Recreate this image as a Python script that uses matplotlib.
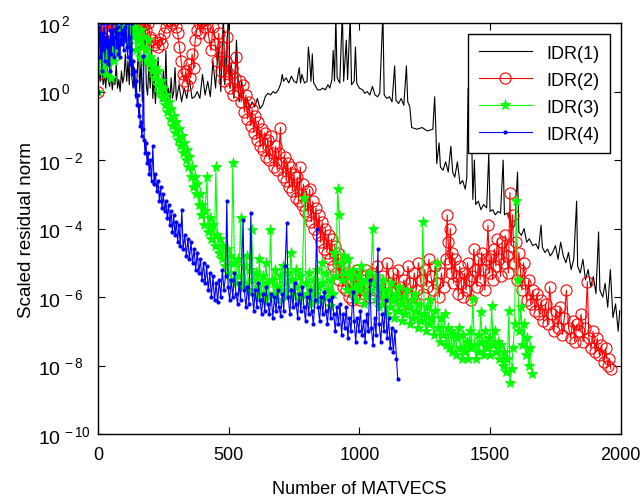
import matplotlib
matplotlib.use('Agg')
import matplotlib.pyplot as plt
import numpy as np
from matplotlib.ticker import FixedLocator, FuncFormatter

plt.rcParams['font.family'] = ['Liberation Sans', 'DejaVu Sans']
plt.rcParams['mathtext.fontset'] = 'custom'
plt.rcParams['mathtext.rm'] = 'Liberation Sans'
plt.rcParams['mathtext.it'] = 'Liberation Sans'

# (MATVECS, log10 of scaled residual norm)
idr1_pts = [
    (0, 0.0), (5, 0.6), (10, 0.3), (15, 0.9), (20, 0.2), (25, 0.5), (30, 0.1), (35, 0.7),
    (40, 0.3), (45, 0.15), (50, 0.55), (55, 0.05), (60, 0.4), (65, 0.2), (70, 0.8), (75, 0.1),
    (80, 0.35), (85, 0.0), (90, 0.6), (95, 0.25), (100, 0.45), (105, 1.1), (110, 0.3), (115, 0.9),
    (120, 0.2), (125, 1.6), (130, 0.4), (135, 0.1), (140, 0.7), (145, -0.2), (150, 0.5), (155, 1.3),
    (160, 0.0), (165, 0.9), (170, -0.3), (175, 0.6), (180, 2.3), (185, 0.2), (190, -0.1), (195, 0.8),
    (200, 0.1), (205, 1.4), (210, -0.2), (215, 0.4), (220, -0.35), (225, 0.3), (230, 1.0), (235, -0.1),
    (240, 0.2), (245, -0.3), (250, 0.6), (255, -0.2), (260, 1.2), (265, -0.25), (270, 0.1), (275, -0.3),
    (280, 0.4), (285, -0.2), (290, 0.0), (295, 0.7), (300, -0.25), (310, 0.2), (320, -0.3), (330, 0.1),
    (340, -0.2), (350, 0.35), (360, -0.2), (370, -0.15), (380, 0.0), (390, -0.2), (400, 0.5), (410, -0.1),
    (420, 0.3), (430, -0.15), (440, 0.9), (450, 0.1), (460, 1.3), (470, 0.0), (480, 2.3), (485, 0.2),
    (490, 0.6), (500, 2.5), (505, 0.1), (510, 0.8), (520, -0.2), (530, 1.5), (540, -0.3), (550, 0.3),
    (560, -0.4), (570, -0.2), (580, -0.5), (590, -0.3), (600, -0.45), (610, -0.2), (620, -0.5), (630, -0.4),
    (640, -0.15), (650, -0.05), (660, -0.1), (670, 0.0), (680, -0.05), (690, 0.05), (700, 0.25), (705, 0.5),
    (710, 0.3), (720, 0.4), (730, 0.25), (740, 0.45), (750, 0.3), (760, 0.25), (770, 0.7), (775, 0.25),
    (780, 0.5), (790, 0.25), (800, 0.3), (805, 1.3), (810, 0.9), (815, 0.3), (820, 1.1), (825, 0.25),
    (830, 0.2), (840, 0.05), (850, 0.05), (860, 0.1), (870, 0.05), (880, 0.2), (887, 0.1), (895, 0.35),
    (900, 1.2), (905, 0.3), (910, 2.2), (915, 0.4), (925, 0.25), (935, 2.3), (940, 0.3), (950, 1.5),
    (955, 0.35), (965, 2.2), (970, 0.2), (980, 0.3), (985, 1.3), (990, 0.25), (1000, 0.1), (1013, 0.05),
    (1020, -0.05), (1030, 0.0), (1040, -0.1), (1050, 0.15), (1060, -0.1), (1070, -0.15), (1078, -0.05),
    (1090, 2.3), (1095, -0.1), (1105, -0.2), (1115, -0.15), (1125, -0.3), (1135, 0.75), (1140, -0.25),
    (1150, -0.35), (1160, -0.2), (1170, -0.4), (1180, 0.75), (1185, -0.3), (1193, -0.45), (1200, -1.05),
    (1220, -1.1), (1240, -1.05), (1260, -1.15), (1281, -1.1), (1288, -0.15), (1293, -1.2), (1296, -2.1),
    (1305, -1.5), (1310, -2.2), (1320, -2.3), (1330, -2.05), (1340, -2.35), (1350, -1.6), (1357, -2.35),
    (1365, -2.5), (1375, -2.05), (1385, -2.7), (1395, -2.6), (1405, -2.85), (1411, -2.5), (1416, 0.1),
    (1420, -0.8), (1425, 0.2), (1430, -1.5), (1434, -3.15), (1440, -2.0), (1445, -3.3), (1455, -3.2),
    (1465, -3.45), (1475, -3.3), (1487, -3.4), (1495, -1.8), (1500, -3.5), (1510, -3.45), (1520, -3.6),
    (1530, -3.5), (1540, -3.55), (1550, -2.0), (1555, -3.6), (1565, -3.55), (1575, -3.7), (1585, -4.0),
    (1595, -3.9), (1605, -2.35), (1610, -4.1), (1620, -4.2), (1630, -4.0), (1640, -4.4), (1650, -4.3),
    (1663, -4.5), (1675, -4.45), (1685, -4.6), (1695, -3.9), (1700, -4.55), (1710, -4.7), (1720, -4.6),
    (1730, -4.8), (1739, -4.7), (1750, -4.5), (1760, -4.9), (1770, -4.4), (1780, -4.8), (1790, -5.0),
    (1800, -4.7), (1810, -5.2), (1820, -4.9), (1831, -3.2), (1835, -5.1), (1845, -5.3), (1855, -4.9),
    (1865, -5.5), (1875, -5.2), (1885, -5.7), (1895, -5.4), (1905, -5.9), (1915, -4.1), (1920, -5.8),
    (1931, -6.0), (1940, -5.6), (1950, -6.3), (1960, -5.2), (1970, -6.6), (1980, -6.2), (1990, -7.0),
    (1996, -6.4),
]

idr2_pts = [
    (0, 0.0), (3, 0.5), (6, 1.5), (10, 1.2), (15, 1.6), (20, 1.9), (28, 1.7), (35, 2.0), (42, 1.8),
    (50, 2.1), (58, 1.9), (65, 2.0), (72, 1.7), (80, 1.9), (88, 2.1), (95, 1.8), (102, 2.0), (110, 1.85),
    (118, 2.05), (125, 1.9), (132, 1.75), (140, 2.0), (148, 1.85), (155, 2.1), (162, 1.9), (170, 1.75),
    (178, 1.95), (185, 1.8), (192, 2.0), (200, 1.6), (208, 1.5), (215, 1.35), (222, 1.45), (230, 1.3),
    (238, 1.55), (245, 1.4), (252, 1.7), (260, 1.9), (268, 2.05), (275, 2.1), (282, 2.0), (290, 2.1),
    (298, 1.9), (305, 1.7), (312, 1.3), (318, 0.9), (324, 0.5), (330, 0.3), (336, 0.6), (342, 0.2),
    (348, 0.8), (354, 0.4), (360, 1.1), (366, 0.7), (372, 1.5), (378, 1.8), (385, 2.0), (392, 1.7),
    (400, 2.05), (408, 1.9), (416, 2.0), (424, 1.6), (432, 1.2), (440, 1.9), (448, 1.4), (455, 0.9),
    (462, 1.7), (470, 0.6), (476, 1.3), (482, 0.3), (488, 0.9), (494, 1.6), (500, 0.5), (506, 0.1),
    (512, 0.7), (518, -0.1), (524, 0.4), (530, 1.0), (536, 0.0), (542, 0.3), (548, -0.3), (554, 0.2),
    (560, -0.6), (566, -0.1), (572, -0.8), (578, -0.3), (584, -1.0), (590, -0.5), (596, -1.2), (602, -0.7),
    (608, -1.4), (614, -0.9), (620, -1.6), (626, -1.1), (632, -1.7), (638, -1.2), (644, -1.9), (650, -1.4),
    (656, -2.0), (662, -1.3), (668, -1.8), (674, -2.2), (680, -1.6), (686, -2.3), (692, -1.8), (698, -1.05),
    (702, -2.1), (708, -2.5), (714, -1.9), (720, -2.6), (726, -2.1), (732, -2.8), (738, -2.2), (744, -2.9),
    (750, -2.4), (756, -3.1), (762, -2.5), (768, -3.2), (774, -2.2), (780, -3.3), (786, -2.7), (792, -3.5),
    (798, -2.9), (804, -3.6), (810, -2.85), (816, -3.8), (822, -3.2), (828, -4.0), (834, -3.4), (840, -4.2),
    (846, -3.6), (852, -4.4), (858, -3.8), (864, -4.6), (870, -4.0), (876, -4.7), (882, -4.2), (888, -4.9),
    (894, -4.3), (900, -5.1), (906, -4.5), (912, -5.3), (918, -4.7), (924, -5.5), (930, -4.9), (936, -5.7),
    (942, -5.1), (948, -5.8), (954, -5.3), (960, -6.0), (966, -5.5), (972, -6.1), (978, -5.4), (984, -5.9),
    (990, -5.2), (996, -5.7), (1002, -6.1), (1010, -5.4), (1018, -5.9), (1026, -5.2), (1034, -5.7),
    (1042, -6.0), (1050, -5.3), (1058, -5.8), (1066, -5.1), (1074, -5.6), (1082, -6.1), (1090, -5.4),
    (1098, -5.9), (1106, -5.0), (1114, -5.6), (1122, -6.0), (1130, -5.3), (1138, -5.8), (1146, -5.2),
    (1154, -5.7), (1162, -6.2), (1170, -5.5), (1178, -5.9), (1186, -5.1), (1194, -5.6), (1202, -6.0),
    (1210, -5.3), (1218, -5.8), (1226, -5.0), (1234, -5.5), (1242, -5.9), (1250, -5.2), (1258, -5.7),
    (1266, -4.9), (1274, -5.4), (1282, -5.8), (1290, -5.1), (1298, -5.6), (1306, -6.0), (1314, -5.3),
    (1322, -5.7), (1330, -4.9), (1336, -3.6), (1340, -4.4), (1344, -5.0), (1348, -4.0), (1352, -5.3),
    (1356, -4.7), (1360, -5.6), (1366, -4.9), (1372, -5.4), (1378, -5.9), (1384, -5.1), (1390, -5.6),
    (1396, -6.0), (1402, -5.3), (1408, -5.8), (1414, -5.0), (1420, -5.5), (1426, -6.1), (1432, -5.4),
    (1438, -4.6), (1444, -5.2), (1450, -5.7), (1456, -4.9), (1462, -5.5), (1468, -4.7), (1474, -5.2),
    (1480, -5.8), (1486, -4.9), (1492, -3.9), (1498, -5.3), (1504, -4.8), (1510, -5.5), (1516, -4.6),
    (1522, -5.1), (1528, -4.3), (1534, -4.9), (1540, -5.4), (1546, -4.4), (1552, -5.0), (1558, -4.2),
    (1564, -4.8), (1570, -5.3), (1576, -2.95), (1580, -4.5), (1586, -3.6), (1592, -5.0), (1598, -4.4),
    (1604, -5.5), (1610, -4.7), (1616, -5.2), (1622, -5.8), (1628, -5.0), (1634, -5.6), (1640, -6.1),
    (1648, -5.5), (1656, -6.2), (1664, -5.8), (1672, -6.4), (1680, -5.9), (1688, -6.5), (1696, -6.1),
    (1704, -6.7), (1712, -6.2), (1720, -6.8), (1728, -5.7), (1736, -6.5), (1744, -7.0), (1752, -6.4),
    (1760, -6.9), (1768, -6.3), (1776, -7.1), (1784, -6.6), (1792, -5.8), (1800, -6.9), (1808, -7.2),
    (1816, -6.7), (1824, -7.3), (1832, -6.8), (1840, -7.0), (1848, -6.5), (1856, -7.3), (1864, -6.9),
    (1872, -5.55), (1878, -7.2), (1886, -7.5), (1894, -7.0), (1902, -7.6), (1910, -7.2), (1918, -7.7),
    (1926, -7.4), (1934, -7.9), (1942, -7.5), (1950, -8.0), (1956, -7.8), (1962, -8.1),
]

idr3_pts = [
    (0, 0.0), (4, 0.6), (8, 1.2), (12, 0.9), (16, 1.4), (20, 0.7), (25, 1.1), (30, 0.5), (35, 1.3),
    (40, 0.8), (45, 1.0), (50, 0.4), (55, 1.2), (60, 0.9), (65, 1.4), (70, 1.1), (75, 1.7), (80, 1.9),
    (85, 1.6), (90, 2.0), (95, 1.8), (100, 1.5), (105, 1.9), (110, 2.0), (115, 1.7), (120, 1.4), (125, 1.8),
    (130, 2.0), (135, 1.6), (140, 1.9), (145, 1.2), (150, 1.7), (155, 1.5), (160, 1.0), (165, 1.8),
    (170, 1.3), (175, 1.6), (180, 0.9), (185, 1.2), (190, 1.5), (195, 0.8), (200, 1.0), (205, 0.6),
    (210, 0.9), (215, 0.4), (220, 0.7), (225, 0.2), (230, 0.6), (235, 0.0), (240, 0.3), (245, -0.2),
    (250, 0.1), (255, -0.4), (260, -0.1), (265, -0.6), (270, -0.3), (275, -0.8), (280, -0.5), (285, -1.0),
    (290, -0.7), (295, -1.2), (300, -0.9), (305, -1.4), (310, -1.1), (315, -1.6), (320, -1.3), (325, -1.8),
    (330, -1.5), (335, -2.0), (340, -1.7), (345, -2.2), (350, -1.9), (355, -2.5), (360, -2.2), (365, -2.8),
    (370, -2.5), (375, -3.0), (380, -2.7), (385, -3.3), (390, -3.0), (395, -3.6), (400, -3.3), (405, -3.9),
    (410, -3.5), (417, -2.5), (422, -4.1), (428, -3.7), (434, -4.3), (440, -3.9), (446, -4.5), (451, -2.2),
    (456, -4.2), (462, -4.7), (468, -4.3), (474, -4.9), (480, -4.5), (486, -5.1), (492, -4.6), (498, -5.3),
    (504, -4.8), (510, -5.5), (516, -2.1), (522, -5.0), (528, -5.6), (534, -4.9), (540, -5.4), (546, -3.7),
    (552, -5.7), (558, -5.1), (564, -5.6), (570, -4.8), (576, -5.8), (582, -5.2), (588, -4.05), (594, -5.5),
    (600, -6.0), (606, -5.3), (612, -5.7), (618, -4.9), (624, -5.9), (630, -5.4), (636, -6.1), (642, -5.0),
    (648, -5.6), (654, -6.0), (660, -4.05), (666, -5.5), (672, -5.9), (678, -5.2), (684, -5.7), (690, -6.1),
    (696, -5.4), (702, -5.8), (708, -5.1), (714, -5.6), (720, -6.0), (726, -5.3), (732, -5.8), (738, -4.7),
    (744, -5.5), (750, -5.9), (756, -5.2), (762, -5.7), (768, -6.1), (774, -5.4), (780, -5.9), (790, -3.1),
    (796, -5.6), (802, -6.0), (808, -5.3), (814, -5.8), (820, -6.2), (826, -5.5), (832, -5.9), (838, -5.2),
    (844, -5.7), (850, -6.1), (856, -5.0), (862, -5.6), (868, -6.0), (874, -5.3), (880, -5.8), (886, -6.25),
    (892, -5.5), (898, -5.9), (904, -4.7), (910, -5.4), (917, -2.85), (922, -3.6), (928, -5.0), (934, -5.5),
    (940, -4.8), (946, -5.3), (952, -5.8), (958, -4.9), (964, -5.4), (970, -5.9), (976, -5.2), (982, -5.7),
    (988, -6.1), (994, -5.4), (1000, -5.8), (1006, -5.1), (1012, -5.6), (1018, -6.2), (1024, -5.5),
    (1030, -6.0), (1036, -5.3), (1042, -5.8), (1051, -4.0), (1056, -5.6), (1062, -6.1), (1068, -5.4),
    (1074, -6.3), (1080, -5.7), (1086, -6.2), (1092, -5.5), (1098, -6.0), (1104, -6.5), (1110, -5.8),
    (1116, -6.3), (1122, -5.6), (1128, -6.1), (1134, -6.6), (1140, -5.9), (1146, -6.4), (1152, -5.7),
    (1158, -6.2), (1164, -6.7), (1170, -6.0), (1176, -6.5), (1182, -5.8), (1188, -6.3), (1194, -6.8),
    (1200, -6.1), (1206, -6.6), (1212, -5.9), (1218, -6.4), (1224, -6.9), (1230, -6.2), (1236, -6.7),
    (1243, -3.8), (1248, -6.5), (1254, -7.0), (1260, -6.3), (1266, -6.8), (1272, -6.1), (1278, -6.6),
    (1284, -7.1), (1290, -6.4), (1296, -5.0), (1302, -6.9), (1308, -7.3), (1314, -6.6), (1320, -7.1),
    (1326, -6.5), (1332, -7.4), (1338, -6.9), (1344, -7.5), (1350, -7.0), (1356, -7.6), (1362, -7.1),
    (1368, -7.7), (1374, -7.2), (1380, -6.9), (1386, -7.5), (1392, -7.8), (1398, -7.1), (1404, -7.6),
    (1410, -7.3), (1416, -7.8), (1422, -7.0), (1428, -7.5), (1434, -6.05), (1440, -7.4), (1446, -7.8),
    (1452, -7.1), (1458, -7.6), (1464, -6.45), (1470, -7.3), (1476, -7.7), (1482, -7.0), (1488, -7.5),
    (1494, -7.2), (1500, -7.7), (1506, -6.25), (1512, -7.4), (1518, -7.0), (1524, -7.6), (1530, -7.3),
    (1536, -7.8), (1542, -7.4), (1548, -8.0), (1554, -7.6), (1560, -8.2), (1566, -7.8), (1572, -6.4),
    (1576, -8.5), (1582, -8.1), (1588, -7.5), (1594, -6.8), (1600, -3.2), (1606, -5.5), (1612, -7.0),
    (1618, -6.3), (1624, -7.4), (1630, -6.8), (1636, -7.7), (1642, -7.2), (1648, -8.0), (1654, -7.5),
    (1660, -8.25),
]

idr4_pts = [
    (0, 0.0), (3, 1.5), (6, 1.9), (9, 1.0), (12, 2.0), (15, 0.6), (18, 1.7), (21, 1.2), (24, 2.0),
    (27, 0.9), (30, 1.6), (33, 1.3), (36, 2.0), (39, 0.8), (42, 1.5), (45, 0.6), (48, 1.8), (51, 1.1),
    (54, 2.0), (57, 1.4), (60, 1.8), (63, 1.0), (66, 1.6), (69, 2.0), (72, 1.3), (75, 1.9), (78, 1.1),
    (81, 1.7), (84, 1.0), (87, 1.5), (90, 2.0), (93, 1.4), (96, 1.8), (99, 1.2), (102, 1.9), (105, 1.5),
    (108, 2.0), (111, 1.3), (114, 1.0), (117, 1.6), (120, 2.0), (123, 0.8), (126, 1.2), (129, 2.0),
    (132, 0.5), (135, 0.9), (138, 0.2), (141, 0.6), (144, -0.1), (147, 0.3), (150, -0.4), (153, -0.1),
    (156, -0.7), (159, -0.4), (162, -1.0), (165, -0.9), (168, -1.3), (171, -1.1), (174, 1.05), (177, -1.4),
    (180, -1.8), (184, -1.5), (188, -2.1), (192, -1.8), (196, -2.4), (200, -2.0), (205, -2.6), (210, -1.6),
    (215, -2.7), (220, -2.4), (225, -2.9), (230, -2.6), (235, -3.2), (240, -2.8), (245, -3.4), (250, -3.0),
    (255, -3.5), (260, -3.2), (265, -3.7), (270, -3.3), (275, -3.9), (280, -3.5), (285, -4.1), (290, -3.6),
    (295, -4.2), (300, -3.8), (305, -4.4), (310, -3.9), (315, -4.5), (321, -3.45), (326, -4.6), (332, -4.2),
    (338, -4.8), (344, -4.3), (350, -4.9), (356, -4.4), (362, -5.0), (368, -4.6), (374, -5.2), (380, -4.7),
    (386, -5.3), (392, -4.9), (398, -5.5), (404, -5.0), (410, -5.6), (416, -5.1), (422, -5.8), (428, -5.3),
    (434, -6.0), (440, -5.4), (446, -6.1), (452, -5.6), (458, -6.15), (464, -5.5), (470, -6.0), (476, -5.2),
    (482, -5.8), (488, -5.4), (493, -3.2), (498, -5.7), (504, -6.1), (510, -5.5), (516, -6.0), (522, -5.3),
    (528, -5.9), (534, -6.2), (540, -5.6), (546, -6.1), (555, -3.75), (560, -5.8), (566, -6.3), (572, -5.7),
    (578, -6.2), (585, -3.55), (590, -5.9), (596, -6.4), (602, -5.8), (608, -6.3), (614, -5.6), (620, -6.1),
    (626, -6.5), (632, -5.9), (638, -6.4), (644, -5.7), (650, -6.2), (656, -6.5), (662, -5.9), (669, -6.6),
    (675, -6.0), (681, -6.4), (687, -5.8), (693, -6.3), (699, -6.55), (705, -5.9), (711, -6.4), (716, -5.1),
    (722, -3.85), (728, -6.0), (734, -6.5), (740, -5.8), (746, -6.3), (752, -5.6), (758, -6.2), (764, -6.6),
    (770, -5.9), (776, -6.4), (782, -5.7), (788, -6.3), (794, -6.7), (800, -6.0), (806, -6.5), (812, -5.8),
    (818, -6.4), (824, -6.8), (830, -6.1), (837, -4.0), (842, -6.3), (848, -6.7), (854, -6.0), (860, -6.5),
    (866, -5.85), (872, -6.4), (878, -6.8), (884, -6.1), (890, -6.6), (896, -6.0), (902, -6.5), (908, -7.0),
    (914, -6.3), (920, -6.8), (926, -6.2), (932, -7.1), (938, -6.5), (944, -6.9), (950, -6.3), (956, -7.2),
    (962, -6.6), (968, -7.0), (975, -5.85), (980, -6.7), (986, -7.3), (992, -6.6), (998, -7.0), (1004, -6.4),
    (1010, -7.1), (1016, -6.7), (1022, -7.3), (1028, -6.5), (1034, -7.0), (1040, -5.5), (1046, -6.9),
    (1052, -7.4), (1058, -6.6), (1064, -7.1), (1071, -4.6), (1076, -6.8), (1082, -7.3), (1088, -6.5),
    (1094, -7.0), (1100, -6.1), (1106, -7.2), (1112, -6.6), (1118, -7.5), (1124, -6.9), (1130, -7.6),
    (1136, -7.0), (1142, -7.8), (1147, -8.4),
]

series_labels = ['IDR(1)', 'IDR(2)', 'IDR(3)', 'IDR(4)']
y_ticks = [1e-10, 1e-8, 1e-6, 1e-4, 1e-2, 1e0, 1e2]
x_ticks = [0, 500, 1000, 1500, 2000]


def unpack(pts):
    a = np.array(pts, dtype=float)
    return a[:, 0], 10.0 ** a[:, 1]


fig = plt.figure(figsize=(6.4, 5.02), dpi=100)
ax = fig.add_axes([0.153, 0.1335, 0.817, 0.8185])

x, y = unpack(idr1_pts)
ax.plot(x, y, color='black', lw=0.8, label=series_labels[0])
x, y = unpack(idr2_pts)
ax.plot(x, y, color='red', lw=0.8, marker='o', ms=8, mfc='none', mew=0.8, label=series_labels[1])
x, y = unpack(idr3_pts)
ax.plot(x, y, color='#00ff00', lw=0.8, marker='*', ms=8, mew=0.6, label=series_labels[2])
x, y = unpack(idr4_pts)
ax.plot(x, y, color='blue', lw=0.8, marker='.', ms=4, label=series_labels[3])

ax.set_yscale('log')
ax.set_xlim(0, 2000)
ax.set_ylim(1e-10, 1e2)
ax.yaxis.set_major_locator(FixedLocator(y_ticks))
ax.yaxis.set_minor_locator(FixedLocator([]))
ax.yaxis.set_major_formatter(FuncFormatter(lambda v, p: r'$10^{\,%d}$' % round(np.log10(v))))
ax.set_xticks(x_ticks)
ax.tick_params(direction='in', top=True, right=True, length=5, width=0.8)
ax.tick_params(axis='x', labelsize=13, pad=9)
ax.tick_params(axis='y', labelsize=14, pad=43)
for lbl in ax.get_yticklabels():
    lbl.set_horizontalalignment('left')
for s in ax.spines.values():
    s.set_linewidth(1.0)

ax.set_xlabel('Number of MATVECS', fontsize=13, labelpad=12)
ax.set_ylabel('Scaled residual norm', fontsize=13.5, labelpad=2)

leg = ax.legend(loc='upper right', fontsize=13, fancybox=False, edgecolor='black',
                framealpha=1, handlelength=2.9, borderaxespad=0.6, borderpad=0.6,
                labelspacing=0.55)
leg.get_frame().set_linewidth(1.0)

fig.savefig('out.png', dpi=100)
